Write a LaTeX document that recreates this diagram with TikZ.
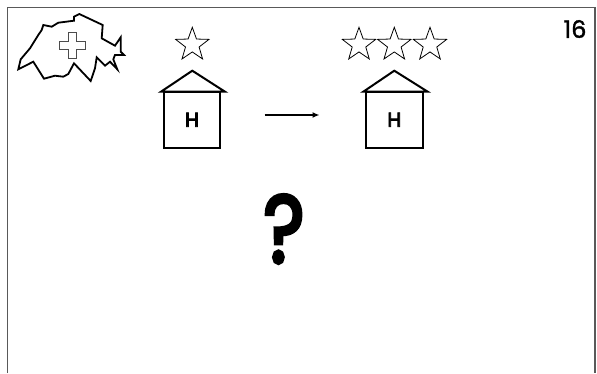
\documentclass[tikz,border=0pt]{standalone}
\usepackage{fontspec}
\setmainfont{Poppins}
\newfontfamily\fbA{Poppins}[FakeBold=1.5]
\newfontfamily\fbB{Poppins}[FakeBold=4]
\usetikzlibrary{shapes.geometric,arrows.meta}
\tikzset{
  starshape/.style={star,star points=5,star point ratio=2.45,minimum size=35pt,inner sep=0pt,draw=black,line width=0.8pt,fill=white},
  housebody/.style={draw=black,line width=2pt,minimum width=56.6pt,minimum height=56pt,inner sep=0pt,fill=white,font=\fontsize{20}{20}\fbB},
  roof/.style={draw=black,line width=2pt,line join=miter},
  linkarrow/.style={draw=black,line width=1.4pt,-{Latex[length=7pt,width=6pt]}},
}
\begin{document}
\begin{tikzpicture}[x=1pt,y=-1pt]
\useasboundingbox (0,0) rectangle (597,373);
\fill[white] (0,0) rectangle (597,373);
\draw[black!65,line width=1.2pt] (7.5,373) -- (7.5,7.2) -- (595,7.2) -- (595,373);
% map
\draw[black,line width=1.8pt,line join=miter,fill=white]
 (18.3,69.3)--(20.7,59.3)--(30,48.3)--(38.3,35)--(41.7,30)--(43.3,25)--(51.7,26.7)--(58.3,22.7)--(74,20.7)--(74,16.7)--(79.3,14)--(102.7,25)--(101.7,38.3)--(115,45.7)--(120.7,37.3)--(120.7,51.7)--(124,55)--(115,55)--(113.3,59.3)--(117.3,69.3)--(110,61.7)--(105,65.7)--(96.7,57.3)--(95,68.3)--(90.7,81)--(74,63.3)--(68.3,74)--(63.3,76.7)--(55,75.7)--(44,78.7)--(33.3,61.7)--cycle;
\draw[black!70,line width=1pt,fill=white]
 (68.5,32.3)--(76.5,32.3)--(76.5,41.3)--(85.7,41.3)--(85.7,49.3)--(76.5,49.3)--(76.5,58.3)--(68.5,58.3)--(68.5,49.3)--(59.3,49.3)--(59.3,41.3)--(68.5,41.3)--cycle;
% stars
\node[starshape] (s1) at (192.3,44.8) {};
\node[starshape] (s2) at (359,44.8) {};
\node[starshape] (s3) at (394.3,44.8) {};
\node[starshape] (s4) at (430,44.8) {};
% houses
\node[housebody] (h1) at (192,119.7) {H};
\node[housebody] (h2) at (394.3,119.7) {H};
\draw[roof] (161,91.7) -- (192.3,70.7) -- (225,91.7) -- cycle;
\draw[roof] (363.3,91.7) -- (394.3,70.7) -- (427.7,91.7) -- cycle;
\coordinate (a1) at (264.5,115);
\coordinate (a2) at (319.5,115);
\draw[linkarrow] (a1) -- (a2);
\node[font=\fontsize{24}{24}\fbA] (num) at (575,29) {16};
\node[font=\fontsize{96}{96}\fbB,xscale=0.82] (q) at (284,229) {?};
\end{tikzpicture}
\end{document}
